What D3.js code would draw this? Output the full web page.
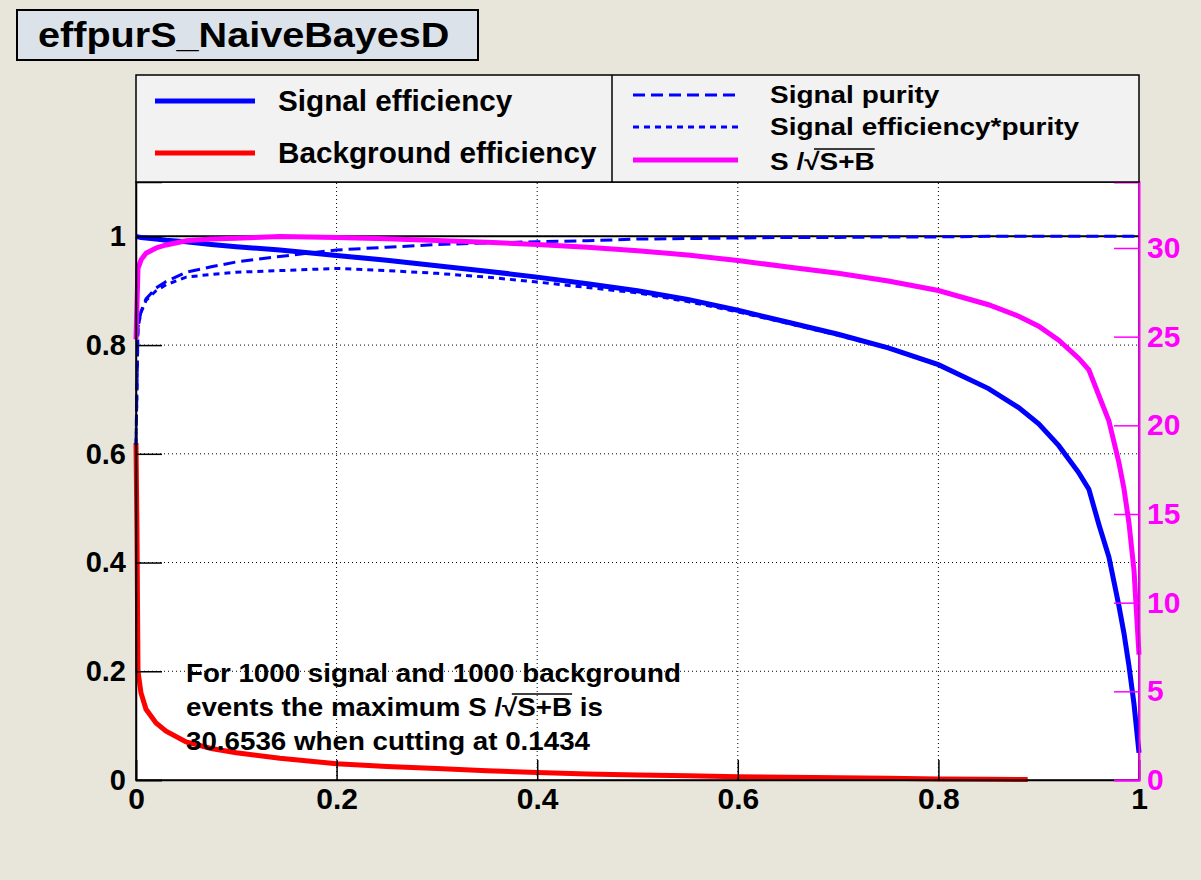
<!DOCTYPE html>
<html><head><meta charset="utf-8">
<script src="https://cdn.jsdelivr.net/npm/d3@7"></script>
<style>
body{margin:0;background:#e8e6da;}
svg{display:block;}
text{font-family:"Liberation Sans",Arial,Helvetica,sans-serif;font-weight:bold;}
</style>
</head><body>
<svg id="c" width="1201" height="880"></svg>
<script>
// ---------- data ----------
const cutValues = [0, 0.002, 0.005, 0.01, 0.02, 0.03, 0.05, 0.075, 0.1, 0.1434, 0.2, 0.25, 0.3, 0.35, 0.4, 0.45, 0.5, 0.55, 0.6, 0.65, 0.7, 0.75, 0.8, 0.85, 0.88, 0.9, 0.92, 0.94, 0.95, 0.96, 0.97, 0.98, 0.985, 0.99, 0.995, 1.0];
const signalEfficiency = [1.0, 0.999, 0.998, 0.997, 0.995, 0.993, 0.99, 0.985, 0.981, 0.975, 0.965, 0.956, 0.946, 0.936, 0.925, 0.913, 0.9, 0.884, 0.864, 0.842, 0.82, 0.795, 0.764, 0.72, 0.685, 0.655, 0.615, 0.565, 0.535, 0.47, 0.41, 0.32, 0.27, 0.21, 0.14, 0.05];
const signalPurity = [0.617, 0.833, 0.862, 0.885, 0.905, 0.917, 0.934, 0.944, 0.953, 0.963, 0.975, 0.98, 0.985, 0.988, 0.99, 0.992, 0.995, 0.996, 0.997, 0.998, 0.998, 0.999, 0.999, 1.0, 1.0, 1.0, 1.0, 1.0, 1.0, 1.0, 1.0, 1.0, 1.0, 1.0, 1.0, 1.0];
const signalEffTimesPurity = [0.617, 0.832, 0.86, 0.882, 0.9, 0.911, 0.925, 0.93, 0.934, 0.937, 0.941, 0.937, 0.932, 0.925, 0.916, 0.906, 0.896, 0.88, 0.861, 0.84, 0.818, 0.794, 0.763, 0.72, 0.685, 0.655, 0.615, 0.565, 0.535, 0.47, 0.41, 0.32, 0.27, 0.21, 0.14, 0.05];
const significance = [24.85, 28.85, 29.33, 29.7, 30.0, 30.17, 30.41, 30.5, 30.55, 30.65, 30.59, 30.52, 30.42, 30.32, 30.19, 30.04, 29.85, 29.6, 29.29, 28.93, 28.57, 28.14, 27.6, 26.8, 26.15, 25.59, 24.8, 23.77, 23.13, 21.68, 20.25, 17.89, 16.43, 14.49, 11.83, 7.07];
const bkgCutValues = [0, 0.001, 0.002, 0.005, 0.01, 0.02, 0.03, 0.05, 0.075, 0.1, 0.1434, 0.2, 0.25, 0.3, 0.35, 0.4, 0.45, 0.5, 0.55, 0.6, 0.65, 0.7, 0.75, 0.8, 0.85, 0.889];
const backgroundEfficiency = [0.62, 0.45, 0.2, 0.16, 0.13, 0.105, 0.09, 0.07, 0.058, 0.05, 0.04, 0.03, 0.025, 0.021, 0.017, 0.014, 0.011, 0.009, 0.008, 0.006, 0.005, 0.004, 0.003, 0.002, 0.0015, 0.001];

const xMajorTicks = [0, 0.2, 0.4, 0.6, 0.8, 1];
const yMajorTicks = [0, 0.2, 0.4, 0.6, 0.8, 1];
const rightMajorTicks = [0, 5, 10, 15, 20, 25, 30];
const titleText = "effpurS_NaiveBayesD";
const legendLeft = ["Signal efficiency", "Background efficiency"];
const legendRight = ["Signal purity", "Signal efficiency*purity"];
const annotationLines = ["For 1000 signal and 1000 background", "events the maximum S /", "30.6536 when cutting at 0.1434"];

// ---------- layout ----------
const svg = d3.select("#c");
const L = 136, R = 1139, T = 182, B = 780;
const x = d3.scaleLinear().domain([0, 1]).range([L, R]);
const y = d3.scaleLinear().domain([0, 1.1]).range([B, T]);
const yR = d3.scaleLinear().domain([0, 33.72]).range([B, T]);
const BLUE = "#0000ff", RED = "#ff0000", MAG = "#ff00ff";

svg.append("rect").attr("width", 1201).attr("height", 880).attr("fill", "#e8e6da");

// stretched text helper
function stext(px, py, size, sx, str) {
  const g = svg.append("g").attr("transform", `translate(${px},${py}) scale(${sx},1)`);
  g.append("text").attr("font-size", size).text(str);
  return g;
}
function sqrtText(px, py, size, sx, before, after) {
  const g = svg.append("g").attr("transform", `translate(${px},${py}) scale(${sx},1)`);
  const t = g.append("text").attr("font-size", size);
  t.append("tspan").text(before);
  t.append("tspan").text("\u221A");
  t.append("tspan").text("S+B");
  if (after) t.append("tspan").text(after);
  const n = t.node();
  const iS = before.length + 1;
  const x0 = n.getStartPositionOfChar(iS - 1).x + size * 0.35;
  const x1 = n.getEndPositionOfChar(iS + 2).x;
  g.append("line").attr("x1", x0).attr("x2", x1).attr("y1", -size * 0.88).attr("y2", -size * 0.88)
    .attr("stroke", "#000").attr("stroke-width", 1.5);
}

// title
svg.append("rect").attr("x", 17).attr("y", 10).attr("width", 461).attr("height", 50)
  .attr("fill", "#dce2ea").attr("stroke", "#000").attr("stroke-width", 2);
stext(38, 47, 36, 1.1, titleText);

// frame
svg.append("rect").attr("x", L).attr("y", T).attr("width", R - L).attr("height", B - T).attr("fill", "#fff");

// grid
const gGrid = svg.append("g").attr("stroke", "#000").attr("stroke-width", 1).attr("stroke-dasharray", "1,3");
[0.2, 0.4, 0.6, 0.8].forEach(v => gGrid.append("line").attr("x1", x(v)).attr("x2", x(v)).attr("y1", B).attr("y2", T));
[0.2, 0.4, 0.6, 0.8, 1].forEach(v => gGrid.append("line").attr("x1", L).attr("x2", R).attr("y1", y(v)).attr("y2", y(v)));
svg.append("line").attr("x1", L).attr("x2", R).attr("y1", y(1)).attr("y2", y(1)).attr("stroke", "#000").attr("stroke-width", 2);

// curves
const lineSig = d3.line().x((d, i) => x(cutValues[i])).y(d => y(d));
const lineBkg = d3.line().x((d, i) => x(bkgCutValues[i])).y(d => y(d));
const lineSignif = d3.line().x((d, i) => x(cutValues[i])).y(d => yR(d));

svg.append("path").attr("d", lineSig(signalEfficiency)).attr("fill", "none").attr("stroke", BLUE).attr("stroke-width", 5);
svg.append("path").attr("d", lineBkg(backgroundEfficiency)).attr("fill", "none").attr("stroke", RED).attr("stroke-width", 5);
svg.append("path").attr("d", lineSig(signalPurity)).attr("fill", "none").attr("stroke", BLUE).attr("stroke-width", 3).attr("stroke-dasharray", "12,6");
svg.append("path").attr("d", lineSig(signalEffTimesPurity)).attr("fill", "none").attr("stroke", BLUE).attr("stroke-width", 3).attr("stroke-dasharray", "6,5");
svg.append("path").attr("d", lineSignif(significance)).attr("fill", "none").attr("stroke", MAG).attr("stroke-width", 5);

// frame border
svg.append("rect").attr("x", L).attr("y", T).attr("width", R - L).attr("height", B - T)
  .attr("fill", "none").attr("stroke", "#000").attr("stroke-width", 1.5);

const fmt = d => String(+d.toFixed(1));
// left axis
const gl = svg.append("g").attr("transform", `translate(${L},0)`);
gl.call(d3.axisLeft(y).tickValues(d3.range(0, 1.1001, 0.05)).tickSize(-13).tickFormat(""));
gl.call(d3.axisLeft(y).tickValues(yMajorTicks).tickSize(-26).tickPadding(10).tickFormat(fmt));
gl.selectAll("text").attr("font-size", 29).attr("fill", "#000");
// bottom axis
const gb = svg.append("g").attr("transform", `translate(0,${B})`);
gb.call(d3.axisBottom(x).tickValues(d3.range(0, 1.0001, 0.05)).tickSize(-10).tickFormat(""));
gb.call(d3.axisBottom(x).tickValues(xMajorTicks).tickSize(-20).tickPadding(8).tickFormat(fmt));
gb.selectAll("text").attr("font-size", 30).attr("fill", "#000");
[gl, gb].forEach(g => { g.selectAll(".domain").attr("stroke", "#000").attr("stroke-width", 1.5); g.selectAll("line").attr("stroke", "#000").attr("stroke-width", 1.5); });

// right axis
const gr = svg.append("g").attr("transform", `translate(${R},0)`);
gr.call(d3.axisRight(yR).tickValues(d3.range(0, 34, 1)).tickSize(-12).tickFormat(""));
gr.call(d3.axisRight(yR).tickValues(rightMajorTicks).tickSize(-25).tickPadding(8).tickFormat(d3.format("d")));
gr.selectAll(".domain").attr("stroke", MAG).attr("stroke-width", 2);
gr.selectAll("line").attr("stroke", MAG).attr("stroke-width", 1.5);
gr.selectAll("text").attr("font-size", 30).attr("fill", MAG);

// legend
svg.append("rect").attr("x", L).attr("y", 75).attr("width", R - L).attr("height", T - 75)
  .attr("fill", "#f2f2f2").attr("stroke", "#000").attr("stroke-width", 1.5);
svg.append("line").attr("x1", 612).attr("x2", 612).attr("y1", 75).attr("y2", T).attr("stroke", "#000").attr("stroke-width", 1.5);
const legL = [{c: BLUE, y: 101}, {c: RED, y: 153}];
legL.forEach((d, i) => {
  svg.append("line").attr("x1", 155).attr("x2", 255).attr("y1", d.y).attr("y2", d.y).attr("stroke", d.c).attr("stroke-width", 5);
  stext(278, d.y + 10, 29.7, 1.0, legendLeft[i]);
});
const legR = [{c: BLUE, y: 95, dash: "12,6", w: 3}, {c: BLUE, y: 127, dash: "6,5", w: 3}];
legR.forEach((d, i) => {
  svg.append("line").attr("x1", 633).attr("x2", 738).attr("y1", d.y).attr("y2", d.y).attr("stroke", d.c).attr("stroke-width", d.w).attr("stroke-dasharray", d.dash);
  stext(770, d.y + 8, 24, 1.165, legendRight[i]);
});
svg.append("line").attr("x1", 633).attr("x2", 738).attr("y1", 160).attr("y2", 160).attr("stroke", MAG).attr("stroke-width", 5);
sqrtText(770, 170, 24, 1.165, "S /", "");

// annotation
stext(186, 682, 25, 1.11, annotationLines[0]);
sqrtText(186, 716, 25, 1.11, annotationLines[1], " is");
stext(186, 750, 25, 1.11, annotationLines[2]);
</script>
</body></html>
